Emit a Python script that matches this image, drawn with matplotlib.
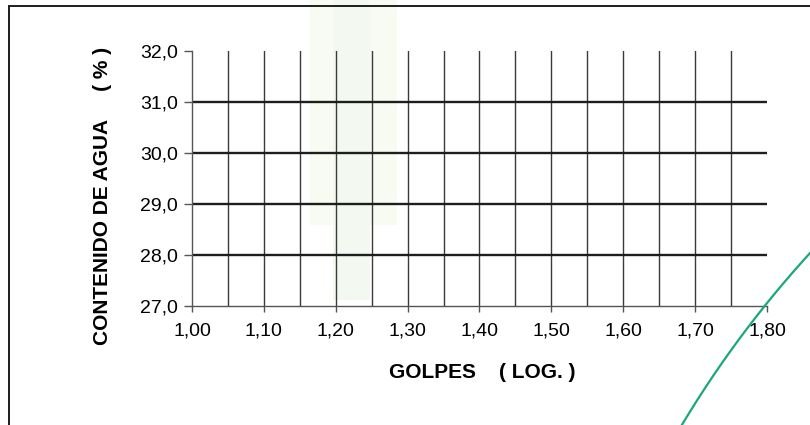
import numpy as np
import matplotlib
matplotlib.use("Agg")
import matplotlib.pyplot as plt
from matplotlib.patches import Rectangle
from matplotlib.lines import Line2D

# ---- data (axis layout of the empty chart) ----
x_ticks = [1.00, 1.10, 1.20, 1.30, 1.40, 1.50, 1.60, 1.70, 1.80]
x_tick_labels = ["1,00", "1,10", "1,20", "1,30", "1,40", "1,50", "1,60", "1,70", "1,80"]
y_ticks = [27.0, 28.0, 29.0, 30.0, 31.0, 32.0]
y_tick_labels = ["27,0", "28,0", "29,0", "30,0", "31,0", "32,0"]
x_grid = [1.05, 1.10, 1.15, 1.20, 1.25, 1.30, 1.35, 1.40, 1.45, 1.50, 1.55, 1.60, 1.65, 1.70, 1.75]
y_grid = [28.0, 29.0, 30.0, 31.0]
x_label = "GOLPES    ( LOG. )"
y_label = "CONTENIDO DE AGUA     ( % )"

plt.rcParams['font.family'] = ['Liberation Sans', 'DejaVu Sans']

W, H = 810, 425
fig = plt.figure(figsize=(W / 100, H / 100), dpi=100)
fig.patch.set_facecolor("white")

# faint green highlight (scan artefact), behind the axes
fig.patches.append(Rectangle((310 / W, (H - 225) / H), 87 / W, 225 / H,
                             transform=fig.transFigure, facecolor="#f8fbf1",
                             edgecolor="none", zorder=-2))
fig.patches.append(Rectangle((333 / W, (H - 300) / H), 37 / W, 300 / H,
                             transform=fig.transFigure, facecolor="#f3f9f0",
                             edgecolor="none", zorder=-1))

# outer frame (left and top edges visible) drawn as thin filled bars
fig.patches.append(Rectangle((8 / W, 0), 2 / W, (H - 5) / H,
                             transform=fig.transFigure, facecolor="#222222",
                             edgecolor="none", zorder=3))
fig.patches.append(Rectangle((8 / W, (H - 7) / H), (W - 8) / W, 2 / H,
                             transform=fig.transFigure, facecolor="#222222",
                             edgecolor="none", zorder=3))

ax = fig.add_axes([192 / W, (H - 306) / H, (767 - 192) / W, (306 - 51) / H])
ax.set_zorder(1)
ax.patch.set_alpha(0)
ax.set_xlim(1.00, 1.80)
ax.set_ylim(27.0, 32.0)

for xv in x_grid:
    ax.axvline(xv, color="#3a3a3a", linewidth=1.0, zorder=2)
for yv in y_grid:
    ax.axhline(yv, color="#1e1e1e", linewidth=1.7, zorder=2)

for s in ["top", "right"]:
    ax.spines[s].set_visible(False)
for s in ["left", "bottom"]:
    ax.spines[s].set_color("#555555")
    ax.spines[s].set_linewidth(1.0)

ax.set_xticks(x_ticks)
ax.set_xticklabels(x_tick_labels)
ax.set_yticks(y_ticks)
ax.set_yticklabels(y_tick_labels)
ax.tick_params(axis="x", direction="out", length=4, width=1, color="#555555",
               labelsize=14, pad=8)
ax.tick_params(axis="y", direction="out", length=6, width=1, color="#555555",
               labelsize=14, pad=4)

fig.text(482 / W, (H - 372) / H, x_label, ha="center", va="center",
         fontsize=15, fontweight="bold")
fig.text(103 / W, (H - 196) / H, y_label, ha="center", va="center",
         rotation=90, fontsize=15, fontweight="bold")

# green stamp arc (scan artefact), in figure pixel coordinates
cx, cy, r = 1597.6, -548.8, 1067.6
ang = np.radians(np.linspace(130, 152, 200))
px = cx + r * np.cos(ang)
py = cy + r * np.sin(ang)
fig.add_artist(Line2D(px / W, py / H, transform=fig.transFigure,
                      color="#1aa874", linewidth=1.6, zorder=5))

fig.savefig("out.png", dpi=100)
